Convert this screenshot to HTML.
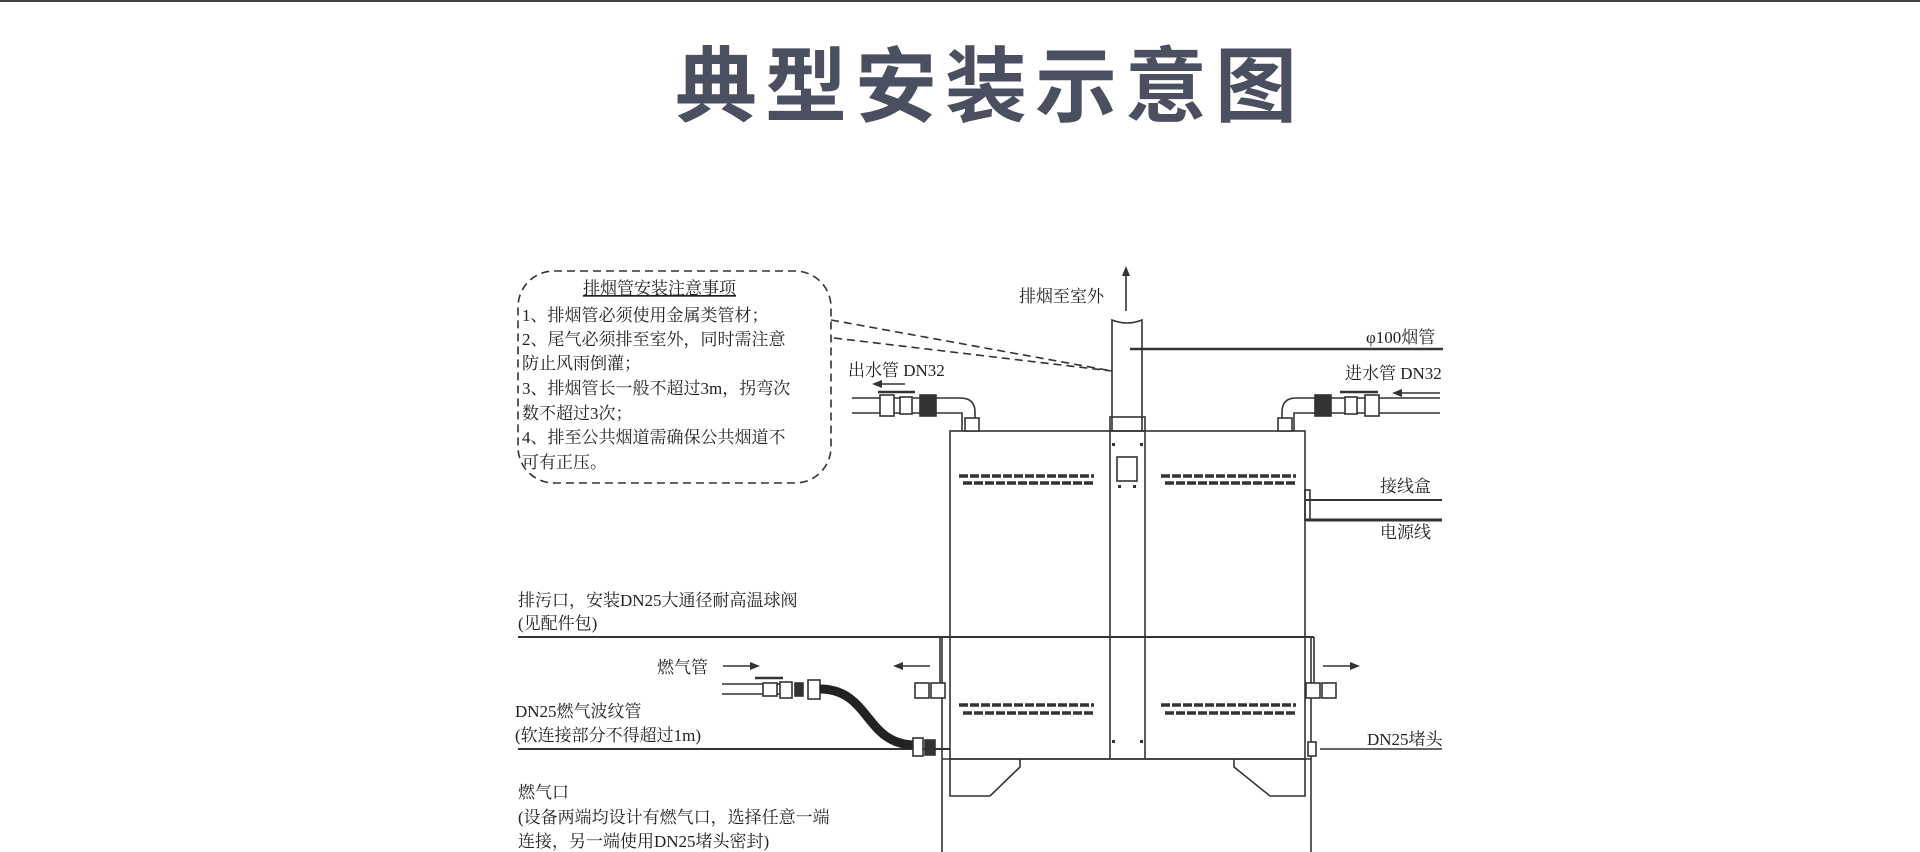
<!DOCTYPE html>
<html><head><meta charset="utf-8"><style>
html,body{margin:0;padding:0;background:#fff;width:1920px;height:852px;overflow:hidden}
svg{display:block}
.t{font-family:"Liberation Serif","Noto Serif CJK SC",serif;font-size:17px;fill:#222}
</style></head><body>
<svg width="1920" height="852" viewBox="0 0 1920 852" xmlns="http://www.w3.org/2000/svg">
<rect x="0" y="0" width="1920" height="2" fill="#444"/>
<text x="990" y="115" text-anchor="middle" font-family="'Liberation Sans','Noto Sans CJK SC',sans-serif" font-weight="bold" font-size="82" letter-spacing="8" fill="#4a5060">典型安装示意图</text>

<g stroke="#333" fill="none" stroke-width="1.6">
<rect x="518" y="271" width="313" height="212" rx="36" stroke-dasharray="8 5"/>
<line x1="831" y1="320" x2="1112" y2="371" stroke-dasharray="8 5"/>
<line x1="834" y1="338" x2="1112" y2="371" stroke-dasharray="8 5"/>
<path d="M1112 431 V320 Q1127 326 1142 320 V431"/>
<rect x="1110" y="417" width="35" height="14"/>
<line x1="1126" y1="311" x2="1126" y2="272"/>
<line x1="1130" y1="349" x2="1443" y2="349" stroke-width="2.5"/>
<rect x="950" y="431" width="355" height="328"/>
<line x1="1110" y1="431" x2="1110" y2="759"/>
<line x1="1145" y1="431" x2="1145" y2="759"/>
<rect x="1117" y="457" width="20" height="24"/>
<line x1="942" y1="759" x2="1311" y2="759"/>
<line x1="942" y1="637" x2="942" y2="852"/>
<line x1="1311" y1="637" x2="1311" y2="852"/>
<path d="M950 759 V796 H990 L1020 767 V759"/>
<path d="M1305 759 V796 H1270 L1234 767 V759"/>
<line x1="518" y1="637" x2="1314" y2="637" stroke-width="2"/>
<line x1="518" y1="749" x2="950" y2="749" stroke-width="2"/>
<line x1="1320" y1="749" x2="1442" y2="749"/>
<line x1="1306" y1="500" x2="1442" y2="500" stroke-width="2"/>
<line x1="1306" y1="520" x2="1442" y2="520" stroke-width="3"/>
<rect x="1305" y="490" width="5" height="30"/>
<path d="M852 398 H960 Q975 398 975 412 V431 M852 413 H962 V431"/>
<rect x="880" y="395" width="14" height="21" fill="#fff"/>
<rect x="900" y="397" width="12" height="17" fill="#fff"/>
<rect x="920" y="395" width="16" height="21" fill="#333"/>
<rect x="965" y="418" width="14" height="13" fill="#fff"/>
<line x1="878" y1="392" x2="915" y2="392" stroke-width="2.5"/>
<path d="M1440 398 H1296 Q1282 398 1282 412 V431 M1440 413 H1294 V431"/>
<rect x="1365" y="395" width="14" height="21" fill="#fff"/>
<rect x="1345" y="397" width="12" height="17" fill="#fff"/>
<rect x="1315" y="395" width="16" height="21" fill="#333"/>
<rect x="1278" y="418" width="14" height="13" fill="#fff"/>
<line x1="1340" y1="392" x2="1378" y2="392" stroke-width="2.5"/>
<path d="M722 684 H780 M722 694 H780"/>
<rect x="763" y="683" width="14" height="13" fill="#fff"/>
<rect x="780" y="682" width="12" height="16" fill="#fff"/>
<rect x="795" y="683" width="8" height="13" fill="#333"/>
<rect x="808" y="680" width="12" height="19" fill="#fff"/>
<line x1="755" y1="678" x2="783" y2="678" stroke-width="2.5"/>
<path d="M820 689 C870 689 865 745 915 745" stroke-width="9" stroke="#222"/>
<rect x="913" y="738" width="10" height="18" fill="#fff"/>
<rect x="925" y="740" width="10" height="15" fill="#333"/>
<line x1="940" y1="637" x2="940" y2="683"/>
<rect x="915" y="683" width="14" height="15" fill="#fff"/>
<rect x="931" y="683" width="14" height="15" fill="#fff"/>
<line x1="1314" y1="637" x2="1314" y2="683"/>
<rect x="1306" y="683" width="14" height="15" fill="#fff"/>
<rect x="1322" y="683" width="14" height="15" fill="#fff"/>
<rect x="1308" y="742" width="8" height="14" fill="#fff"/>
<line x1="880" y1="384" x2="905" y2="384"/>
<line x1="1400" y1="393" x2="1440" y2="393"/>
<line x1="723" y1="666" x2="752" y2="666"/>
<line x1="900" y1="666" x2="930" y2="666"/>
<line x1="1323" y1="666" x2="1352" y2="666"/>
</g>
<g fill="#333">
<polygon points="1126,266 1122,276 1130,276"/>
<polygon points="872,384 882,380 882,388"/>
<polygon points="1392,393 1402,389 1402,397"/>
<polygon points="760,666 750,662 750,670"/>
<polygon points="893,666 903,662 903,670"/>
<polygon points="1360,666 1350,662 1350,670"/>
<rect x="1112" y="443" width="3" height="3"/><rect x="1140" y="443" width="3" height="3"/>
<rect x="1118" y="485" width="3" height="3"/><rect x="1133" y="485" width="3" height="3"/>
<rect x="1112" y="740" width="3" height="3"/><rect x="1140" y="740" width="3" height="3"/>
</g>
<g stroke="#333" stroke-width="3.5" stroke-dasharray="9 2">
<line x1="959" y1="476" x2="1094" y2="476"/><line x1="963" y1="483" x2="1094" y2="483"/>
<line x1="1161" y1="476" x2="1296" y2="476"/><line x1="1165" y1="483" x2="1296" y2="483"/>
<line x1="959" y1="705" x2="1094" y2="705"/><line x1="963" y1="713" x2="1094" y2="713"/>
<line x1="1161" y1="705" x2="1296" y2="705"/><line x1="1165" y1="713" x2="1296" y2="713"/>
</g>

<g class="t">
<text x="583" y="294" text-decoration="underline">排烟管安装注意事项</text>
<text x="522" y="321">1、排烟管必须使用金属类管材；</text>
<text x="522" y="345">2、尾气必须排至室外，同时需注意</text>
<text x="522" y="369">防止风雨倒灌；</text>
<text x="522" y="394">3、排烟管长一般不超过3m，拐弯次</text>
<text x="522" y="419">数不超过3次；</text>
<text x="522" y="443">4、排至公共烟道需确保公共烟道不</text>
<text x="522" y="468">可有正压。</text>
<text x="1019" y="302">排烟至室外</text>
<text x="1366" y="343">φ100烟管</text>
<text x="848" y="376">出水管 DN32</text>
<text x="1345" y="379">进水管 DN32</text>
<text x="1380" y="492">接线盒</text>
<text x="1380" y="538">电源线</text>
<text x="518" y="606">排污口，安装DN25大通径耐高温球阀</text>
<text x="518" y="629">(见配件包)</text>
<text x="657" y="673">燃气管</text>
<text x="515" y="717">DN25燃气波纹管</text>
<text x="515" y="741">(软连接部分不得超过1m)</text>
<text x="1367" y="745">DN25堵头</text>
<text x="518" y="798">燃气口</text>
<text x="518" y="823">(设备两端均设计有燃气口，选择任意一端</text>
<text x="518" y="847">连接，另一端使用DN25堵头密封)</text>
</g>
</svg>
</body></html>
